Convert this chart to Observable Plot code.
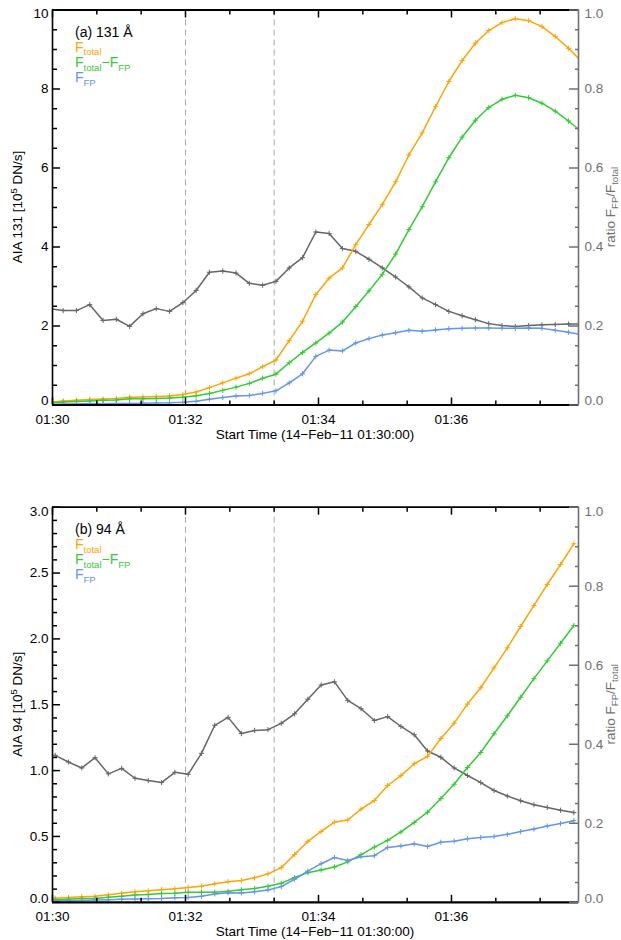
<!DOCTYPE html>
<html>
<head>
<meta charset="utf-8">
<script src="https://cdn.jsdelivr.net/npm/d3@7"></script>
<script src="https://cdn.jsdelivr.net/npm/@observablehq/plot@0.6"></script>
<style>
  body { margin: 0; background: #fff; }
  #chart { width: 621px; }
  #chart svg { display: block; }
</style>
</head>
<body>
<div id="chart"></div>
<script>
// ---------- shared axis data ----------
const xEnd = 474.6;                       // seconds after 01:30:00 (right edge)
const xMajor = [0, 120, 240, 360];
const xTickLabels = ["01:30", "01:32", "01:34", "01:36"];
const xMinor = [40, 80, 160, 200, 280, 320, 400, 440];
const markerTimes = [120, 200];           // dashed vertical lines
const ratioMajor = [0, 0.2, 0.4, 0.6, 0.8, 1.0];
const ratioLabels = ["0.0", "0.2", "0.4", "0.6", "0.8", "1.0"];
const ratioMinor = [0.05, 0.1, 0.15, 0.25, 0.3, 0.35, 0.45, 0.5, 0.55, 0.65, 0.7, 0.75, 0.85, 0.9, 0.95];

// ---------- panel (a) 131 A ----------
const timesA = [-2.4, 9.6, 21.6, 33.6, 45.6, 57.6, 69.6, 81.6, 93.6, 105.6, 117.6, 129.6, 141.6, 153.6,
  165.6, 177.6, 189.6, 201.6, 213.6, 225.6, 237.6, 249.6, 261.6, 273.6, 285.6, 297.6, 309.6, 321.6,
  333.6, 345.6, 357.6, 369.6, 381.6, 393.6, 405.6, 417.6, 429.6, 441.6, 453.6, 465.6, 477.6];
const totalA = [0.07, 0.10, 0.12, 0.14, 0.15, 0.165, 0.195, 0.205, 0.215, 0.23, 0.265, 0.33, 0.44, 0.56,
  0.68, 0.79, 0.97, 1.14, 1.63, 2.12, 2.80, 3.21, 3.47, 4.06, 4.57, 5.08, 5.65, 6.33, 6.89, 7.55,
  8.19, 8.72, 9.16, 9.48, 9.68, 9.78, 9.73, 9.58, 9.33, 9.03, 8.69];
const diffA = [0.053, 0.076, 0.091, 0.104, 0.118, 0.129, 0.156, 0.158, 0.163, 0.175, 0.196, 0.234, 0.292,
  0.37, 0.453, 0.547, 0.676, 0.78, 1.07, 1.33, 1.57, 1.82, 2.10, 2.49, 2.89, 3.31, 3.82, 4.44, 5.02,
  5.65, 6.26, 6.78, 7.21, 7.53, 7.74, 7.84, 7.78, 7.64, 7.44, 7.19, 6.91];
const fpA = [0.017, 0.024, 0.029, 0.036, 0.032, 0.036, 0.039, 0.047, 0.052, 0.055, 0.069, 0.096, 0.148,
  0.19, 0.227, 0.243, 0.294, 0.36, 0.56, 0.79, 1.23, 1.39, 1.37, 1.57, 1.68, 1.77, 1.83, 1.89, 1.87,
  1.90, 1.93, 1.94, 1.95, 1.95, 1.94, 1.94, 1.95, 1.94, 1.89, 1.84, 1.78];
const ratioA = [0.244, 0.239, 0.239, 0.254, 0.214, 0.217, 0.199, 0.231, 0.244, 0.237, 0.259, 0.290, 0.336,
  0.339, 0.334, 0.308, 0.303, 0.313, 0.347, 0.373, 0.438, 0.434, 0.396, 0.389, 0.369, 0.347, 0.324,
  0.299, 0.271, 0.254, 0.237, 0.226, 0.216, 0.206, 0.201, 0.199, 0.201, 0.203, 0.204, 0.205, 0.205];
const yMajorA = [0, 2, 4, 6, 8, 10];
const yLabelsA = ["0", "2", "4", "6", "8", "10"];
const yMinorA = [0.5, 1, 1.5, 2.5, 3, 3.5, 4.5, 5, 5.5, 6.5, 7, 7.5, 8.5, 9, 9.5];

// ---------- panel (b) 94 A ----------
const timesB = [2.4, 14.4, 26.4, 38.4, 50.4, 62.4, 74.4, 86.4, 98.4, 110.4, 122.4, 134.4, 146.4, 158.4,
  170.4, 182.4, 194.4, 206.4, 218.4, 230.4, 242.4, 254.4, 266.4, 278.4, 290.4, 302.4, 314.4, 326.4,
  338.4, 350.4, 362.4, 374.4, 386.4, 398.4, 410.4, 422.4, 434.4, 446.4, 458.4, 470.4];
const totalB = [0.031, 0.036, 0.042, 0.046, 0.057, 0.069, 0.080, 0.087, 0.095, 0.102, 0.112, 0.122, 0.140,
  0.156, 0.165, 0.186, 0.216, 0.263, 0.363, 0.462, 0.538, 0.608, 0.625, 0.708, 0.773, 0.887, 0.962,
  1.052, 1.108, 1.244, 1.36, 1.505, 1.629, 1.78, 1.932, 2.094, 2.254, 2.413, 2.565, 2.722];
const diffB = [0.020, 0.024, 0.028, 0.029, 0.038, 0.046, 0.055, 0.060, 0.066, 0.068, 0.076, 0.076, 0.077,
  0.083, 0.095, 0.105, 0.122, 0.144, 0.188, 0.225, 0.245, 0.268, 0.307, 0.362, 0.419, 0.470, 0.534,
  0.607, 0.684, 0.788, 0.896, 1.023, 1.137, 1.280, 1.416, 1.557, 1.698, 1.833, 1.967, 2.102];
const fpB = [0.010, 0.012, 0.014, 0.017, 0.019, 0.023, 0.025, 0.027, 0.029, 0.034, 0.036, 0.046, 0.063,
  0.073, 0.070, 0.081, 0.094, 0.119, 0.175, 0.237, 0.293, 0.340, 0.318, 0.346, 0.354, 0.417, 0.428,
  0.445, 0.424, 0.456, 0.464, 0.482, 0.492, 0.500, 0.516, 0.537, 0.556, 0.580, 0.598, 0.620];
const ratioB = [0.372, 0.355, 0.340, 0.366, 0.325, 0.339, 0.314, 0.308, 0.303, 0.329, 0.324, 0.377, 0.448,
  0.468, 0.427, 0.435, 0.437, 0.453, 0.477, 0.514, 0.550, 0.558, 0.511, 0.490, 0.460, 0.470, 0.445,
  0.424, 0.383, 0.367, 0.340, 0.321, 0.303, 0.283, 0.269, 0.257, 0.247, 0.240, 0.233, 0.227];
const yMajorB = [0, 0.5, 1.0, 1.5, 2.0, 2.5, 3.0];
const yLabelsB = ["0.0", "0.5", "1.0", "1.5", "2.0", "2.5", "3.0"];
const yMinorB = [0.1, 0.2, 0.3, 0.4, 0.6, 0.7, 0.8, 0.9, 1.1, 1.2, 1.3, 1.4, 1.6, 1.7, 1.8, 1.9,
  2.1, 2.2, 2.3, 2.4, 2.6, 2.7, 2.8, 2.9];

// ---------- style ----------
const FONT = "'Liberation Sans', Arial, Helvetica, sans-serif";
const C_TOTAL = "#ffa500", C_DIFF = "#33cc33", C_FP = "#6495ed", C_RATIO = "#666666", C_RAXIS = "#707070";
const FS = 14, FS_TICK = 13.5, FS_SMALL = 9.5;

function yTextMarks(anchor, ticks, labels, color, pad) {
  const fmt = d => labels[ticks.indexOf(d)];
  const n = ticks.length;
  const base = {anchor, tickSize: 0, tickPadding: pad, tickFormat: fmt, color, label: null, fontSize: FS_TICK};
  return [
    Plot.axisY({...base, ticks: ticks.slice(1, n - 1)}),
    Plot.axisY({...base, ticks: [ticks[0]], dy: -4}),
    Plot.axisY({...base, ticks: [ticks[n - 1]], dy: 4})
  ];
}

function addRich(svg, {x = 0, y = 0, parts, fill, anchor = "start", transform, size = FS}) {
  const t = svg.append("text")
    .attr("x", x).attr("y", y)
    .attr("fill", fill)
    .attr("font-size", size)
    .attr("font-family", FONT)
    .attr("text-anchor", anchor);
  if (transform) t.attr("transform", transform);
  let shift = 0;
  for (const [s, mode] of parts) {
    const target = mode === "sub" ? 3.5 : mode === "sup" ? -5.5 : 0;
    t.append("tspan")
      .attr("dy", target - shift)
      .attr("font-size", mode ? FS_SMALL : size)
      .text(s);
    shift = target;
  }
}

function panel(p) {
  const W = 621, H = 470, ml = 52, mr = 43;
  const rows = s => p.times.map((t, i) => ({t, v: s[i]}));
  const ratioRows = p.times.map((t, i) => ({t, v: p.ratio[i] * p.ymax}));
  const series = [
    [ratioRows, C_RATIO],
    [rows(p.total), C_TOTAL],
    [rows(p.diff), C_DIFF],
    [rows(p.fp), C_FP]
  ];
  const rMajorU = ratioMajor.map(r => r * p.ymax);
  const rMinorU = ratioMinor.map(r => r * p.ymax);
  const fmtX = d => xTickLabels[xMajor.indexOf(d)];

  const marks = [
    Plot.ruleX(markerTimes, {stroke: "#a8a8a8", strokeWidth: 1, strokeDasharray: "6,4"}),
    ...series.flatMap(([data, c]) => [
      Plot.line(data, {x: "t", y: "v", stroke: c, strokeWidth: 1.5, clip: true}),
      Plot.dot(data, {x: "t", y: "v", stroke: c, symbol: "plus", r: 1.8, strokeWidth: 1, clip: true})
    ]),
    // frame lines
    Plot.ruleY([p.ymax], {stroke: "black", strokeWidth: 1.8}),
    Plot.ruleY([0], {stroke: "black", strokeWidth: 2.2}),
    Plot.ruleX([0], {stroke: "black", strokeWidth: 1.6}),
    Plot.ruleX([xEnd], {stroke: C_RAXIS, strokeWidth: 1.6}),
    // x ticks (inward), bottom and top
    Plot.axisX({anchor: "bottom", ticks: xMajor, tickSize: -7, fill: "none", stroke: "black", strokeWidth: 1.5, label: null}),
    Plot.axisX({anchor: "bottom", ticks: xMinor, tickSize: -4, fill: "none", stroke: "black", strokeWidth: 1.5, label: null}),
    Plot.axisX({anchor: "top", ticks: xMajor, tickSize: -7, fill: "none", stroke: "black", strokeWidth: 1.5, label: null}),
    Plot.axisX({anchor: "top", ticks: xMinor, tickSize: -4, fill: "none", stroke: "black", strokeWidth: 1.5, label: null}),
    Plot.axisX({anchor: "bottom", ticks: xMajor, tickSize: 0, tickPadding: 9, tickFormat: fmtX, color: "black", label: null, fontSize: FS_TICK}),
    // left axis
    Plot.axisY({anchor: "left", ticks: p.yMajor, tickSize: -8, fill: "none", stroke: "black", strokeWidth: 1.5, label: null}),
    Plot.axisY({anchor: "left", ticks: p.yMinor, tickSize: -5, fill: "none", stroke: "black", strokeWidth: 1.5, label: null}),
    ...yTextMarks("left", p.yMajor, p.yLabels, "black", 4),
    // right axis (ratio)
    Plot.axisY({anchor: "right", ticks: rMajorU, tickSize: -10, fill: "none", stroke: C_RAXIS, strokeWidth: 1.5, label: null}),
    Plot.axisY({anchor: "right", ticks: rMinorU, tickSize: -4, fill: "none", stroke: C_RAXIS, strokeWidth: 1.5, label: null}),
    ...yTextMarks("right", rMajorU, ratioLabels, C_RAXIS, 6)
  ];

  const plot = Plot.plot({
    width: W, height: H,
    marginLeft: ml, marginRight: mr, marginTop: p.mt, marginBottom: p.mb,
    x: {domain: [0, xEnd], label: null, axis: null},
    y: {domain: [0, p.ymax], label: null, axis: null},
    style: {fontFamily: FONT, fontSize: FS + "px", background: "white"},
    marks
  });

  const svg = d3.select(plot);
  const top = p.mt, bot = H - p.mb, cy = (top + bot) / 2, cx = (ml + (W - mr)) / 2;
  const lx = ml + 23;
  addRich(svg, {x: lx, y: top + 27, parts: [[p.tag, null]], fill: "black"});
  addRich(svg, {x: lx, y: top + 42.3, parts: [["F", null], ["total", "sub"]], fill: C_TOTAL});
  addRich(svg, {x: lx, y: top + 57.5, parts: [["F", null], ["total", "sub"], ["\u2212F", null], ["FP", "sub"]], fill: C_DIFF});
  addRich(svg, {x: lx, y: top + 72.7, parts: [["F", null], ["FP", "sub"]], fill: C_FP});
  addRich(svg, {parts: [[p.ylabel + " [10", null], ["5", "sup"], [" DN/s]", null]], fill: "black",
    anchor: "middle", transform: `translate(22,${cy}) rotate(-90)`, size: FS_TICK});
  addRich(svg, {parts: [["ratio F", null], ["FP", "sub"], ["/F", null], ["total", "sub"]], fill: C_RAXIS,
    anchor: "middle", transform: `translate(614.5,${cy}) rotate(-90)`, size: FS_TICK});
  addRich(svg, {x: cx, y: bot + 34.5, parts: [["Start Time (14\u2212Feb\u221211 01:30:00)", null]], fill: "black", anchor: "middle", size: FS_TICK});
  return plot;
}

const chart = document.getElementById("chart");
chart.appendChild(panel({
  times: timesA, total: totalA, diff: diffA, fp: fpA, ratio: ratioA,
  ymax: 10, yMajor: yMajorA, yLabels: yLabelsA, yMinor: yMinorA,
  mt: 9.5, mb: 65.5, tag: "(a) 131 \u00c5", ylabel: "AIA 131"
}));
chart.appendChild(panel({
  times: timesB, total: totalB, diff: diffB, fp: fpB, ratio: ratioB,
  ymax: 3, yMajor: yMajorB, yLabels: yLabelsB, yMinor: yMinorB,
  mt: 36.7, mb: 38.2, tag: "(b) 94 \u00c5", ylabel: "AIA 94"
}));
</script>
</body>
</html>
